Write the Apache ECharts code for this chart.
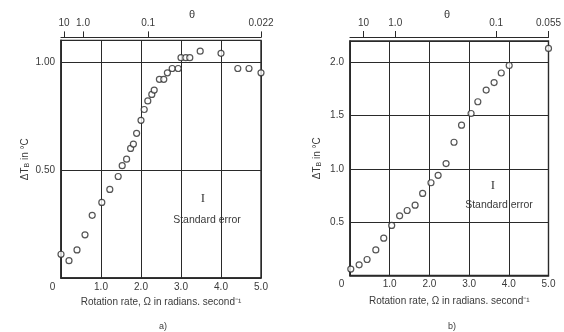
<!DOCTYPE html>
<html>
<head>
<meta charset="utf-8">
<script src="https://cdn.jsdelivr.net/npm/echarts@6/dist/echarts.min.js"></script>
<style>
  html, body { margin: 0; padding: 0; background: #fff; }
  #chart { width: 564px; height: 332px; }
</style>
</head>
<body>
<div id="chart"></div>
<script>
// Panel a): temperature rise vs rotation rate
const omegaA = [0.0, 0.2, 0.4, 0.6, 0.78, 1.02, 1.22, 1.43, 1.53, 1.64, 1.74, 1.81, 1.89, 2.0, 2.08, 2.17, 2.27, 2.33, 2.46, 2.57, 2.66, 2.78, 2.93, 3.0, 3.12, 3.22, 3.48, 4.0, 4.42, 4.7, 5.0];
const deltaTA = [0.11, 0.08, 0.13, 0.20, 0.29, 0.35, 0.41, 0.47, 0.52, 0.55, 0.60, 0.62, 0.67, 0.73, 0.78, 0.82, 0.85, 0.87, 0.92, 0.92, 0.95, 0.97, 0.97, 1.02, 1.02, 1.02, 1.05, 1.04, 0.97, 0.97, 0.95];

// Panel b)
const omegaB = [0.02, 0.23, 0.43, 0.65, 0.85, 1.05, 1.25, 1.44, 1.64, 1.83, 2.04, 2.22, 2.42, 2.62, 2.81, 3.05, 3.22, 3.43, 3.63, 3.81, 4.01, 5.0];
const deltaTB = [0.06, 0.10, 0.15, 0.24, 0.35, 0.47, 0.56, 0.61, 0.66, 0.77, 0.87, 0.94, 1.05, 1.25, 1.41, 1.52, 1.63, 1.74, 1.81, 1.90, 1.97, 2.13];

// Bottom axis ticks (Ω) and left-axis ticks (ΔT)
const omegaTicks = [0, 1, 2, 3, 4, 5];
const yTicksA = [0.5, 1.0];
const yLabelsA = ['0.50', '1.00'];
const yTicksB = [0.5, 1.0, 1.5, 2.0];
const yLabelsB = ['0.5', '1.0', '1.5', '2.0'];

// Top θ scale: labels and the Ω position where each sits
const thetaLabelsA = ['10', '1.0', '0.1', '0.022'];
const thetaAtA = [0.075, 0.55, 2.18, 5.0];
const thetaLabelsB = ['10', '1.0', '0.1', '0.055'];
const thetaAtB = [0.34, 1.14, 3.68, 5.0];

const INK = '#2a2a2a';
const TXT = '#3a3a3a';
const FONT = 'Liberation Sans, Arial, sans-serif';

function pairs(xs, ys) { return xs.map((x, i) => [x, ys[i]]); }

function bottomAxis(gridIndex, nameGap) {
  return {
    type: 'value', gridIndex, position: 'bottom', min: 0, max: 5, interval: 1,
    name: 'Rotation rate, \u03A9 in radians. second\u207B\u00B9',
    nameLocation: 'middle', nameGap,
    nameTextStyle: { color: TXT, fontSize: 10, fontFamily: FONT },
    axisLine: { show: true, lineStyle: { color: INK, width: 1.6 } },
    axisTick: { show: false },
    axisLabel: {
      customValues: omegaTicks, margin: 4, color: TXT, fontSize: 10, fontFamily: FONT,
      formatter: v => v === 0 ? '{o|0}' : v.toFixed(1),
      rich: { o: { color: TXT, fontSize: 10, fontFamily: FONT, padding: [0, 17, 0, 0] } }
    },
    splitLine: { show: true, lineStyle: { color: INK, width: 1 } }
  };
}

function topAxis(gridIndex, offset, at, labels) {
  return {
    type: 'value', gridIndex, position: 'top', offset, min: 0, max: 5,
    axisLine: { show: true, lineStyle: { color: INK, width: 1.2 } },
    axisTick: { show: true, customValues: at, length: 6, inside: false, lineStyle: { color: INK, width: 1 } },
    axisLabel: {
      customValues: at, margin: 9, color: TXT, fontSize: 10, fontFamily: FONT,
      formatter: v => labels[at.indexOf(v)] ?? ''
    },
    splitLine: { show: false }
  };
}

function leftAxis(gridIndex, max, ticks, labels, nameGap) {
  return {
    type: 'value', gridIndex, min: 0, max, interval: 0.5,
    name: '\u0394T{s|B} in \u00B0C', nameLocation: 'middle', nameRotate: 90, nameGap,
    nameTextStyle: {
      color: TXT, fontSize: 10, fontFamily: FONT,
      rich: { s: { color: TXT, fontSize: 7, fontFamily: FONT, verticalAlign: 'bottom', padding: [4, 0, 0, 0] } }
    },
    axisLine: { show: true, lineStyle: { color: INK, width: 1.6 } },
    axisTick: { show: false },
    axisLabel: {
      customValues: ticks, margin: 6, color: TXT, fontSize: 10, fontFamily: FONT,
      formatter: v => labels[ticks.indexOf(v)] ?? ''
    },
    splitLine: { show: true, lineStyle: { color: INK, width: 1 } }
  };
}

function points(data, xAxisIndex, yAxisIndex) {
  return {
    type: 'scatter', data, xAxisIndex, yAxisIndex, clip: false,
    symbol: 'circle', symbolSize: 6,
    itemStyle: { color: '#fff', borderColor: INK, borderWidth: 1.2 },
    z: 5
  };
}

function note(x, y, text, size, family) {
  return {
    type: 'text', x, y,
    style: { text, fill: TXT, fontSize: size, fontFamily: family || FONT, align: 'center', verticalAlign: 'middle' }
  };
}

const option = {
  backgroundColor: '#fff',
  animation: false,
  grid: [
    { left: 61, right: 303, top: 40.4, bottom: 54, show: true, borderColor: INK, borderWidth: 1.4, backgroundColor: 'transparent' },
    { left: 350, right: 13, top: 41, bottom: 56.5, show: true, borderColor: INK, borderWidth: 1.4, backgroundColor: 'transparent' }
  ],
  xAxis: [
    bottomAxis(0, 19),
    topAxis(0, 3, thetaAtA, thetaLabelsA),
    bottomAxis(1, 21),
    topAxis(1, 4, thetaAtB, thetaLabelsB)
  ],
  yAxis: [
    leftAxis(0, 1.1, yTicksA, yLabelsA, 30),
    leftAxis(1, 2.2, yTicksB, yLabelsB, 27)
  ],
  series: [
    points(pairs(omegaA, deltaTA), 0, 0),
    points(pairs(omegaB, deltaTB), 2, 1)
  ],
  graphic: [
    note(192, 15, '\u03B8', 11),
    note(447, 15, '\u03B8', 11),
    note(203, 199, 'I', 13, 'Liberation Serif, serif'),
    note(207, 220, 'Standard error', 10.5),
    note(493, 186, 'I', 13, 'Liberation Serif, serif'),
    note(499, 205, 'Standard error', 10.5),
    note(163, 327, 'a)', 9),
    note(452, 327, 'b)', 9)
  ]
};

echarts.init(document.getElementById('chart'), null, { renderer: 'canvas' }).setOption(option);
</script>
</body>
</html>
